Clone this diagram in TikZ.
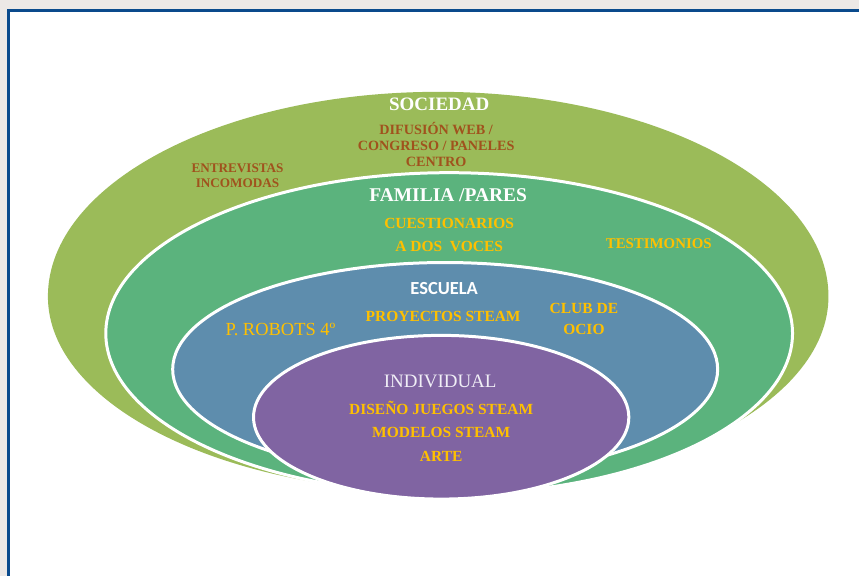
\documentclass[tikz,border=0pt]{standalone}
\usepackage{fontspec}
\setmainfont{Liberation Serif}
\newfontfamily\calibrifont{Carlito}
\usetikzlibrary{shapes.geometric}

\begin{document}
\begin{tikzpicture}[x=1pt,y=-1pt,
  ring/.style={ellipse,draw=white,line width=3pt,inner sep=0pt},
  ring label/.style={text=white,font=\bfseries\fontsize{19}{19}\selectfont,anchor=base},
  gold item/.style={text=itemgold,font=\bfseries\fontsize{15.5}{23.5}\selectfont,align=center,anchor=base},
  brown item/.style={text=notebrown,font=\bfseries\fontsize{14.2}{15.7}\selectfont,align=center,anchor=base}]
  \definecolor{framegray}{RGB}{236,232,230}
  \definecolor{frameblue}{RGB}{10,74,140}
  \definecolor{olivering}{RGB}{155,187,89}
  \definecolor{greenring}{RGB}{91,179,125}
  \definecolor{bluering}{RGB}{94,141,173}
  \definecolor{purplering}{RGB}{128,100,162}
  \definecolor{itemgold}{RGB}{255,192,0}
  \definecolor{notebrown}{RGB}{160,82,29}
  \definecolor{lightlabel}{RGB}{240,238,246}

  \fill[framegray] (0,0) rectangle (861,577);
  \fill[white] (7,9) rectangle (861,577);
  \draw[frameblue,line width=3.2pt] (8.6,577) -- (8.6,10.8) -- (861,10.8);

  % outer ring, a little flatter below
  \coordinate (sociedad) at (439,297);
  \fill[olivering] (48,297) arc[start angle=180,end angle=360,x radius=391,y radius=205]
    arc[start angle=0,end angle=180,x radius=391,y radius=196] -- cycle;
  \node[ring,fill=greenring,minimum width=688pt,minimum height=322pt] (familia) at (450,334) {};
  \node[ring,fill=bluering,minimum width=546pt,minimum height=214pt] (escuela) at (446,370) {};
  \node[ring,fill=purplering,minimum width=376pt,minimum height=164pt] (individual) at (442,418) {};

  \node[ring label] (sociedad label) at (440,110.5) {SOCIEDAD};
  \node[brown item] (difusion) at (437,166.5) {DIFUSIÓN WEB /\\CONGRESO / PANELES\\CENTRO};
  \node[brown item,font=\bfseries\fontsize{13.2}{15}\selectfont] (entrevistas) at (238,188) {ENTREVISTAS\\INCOMODAS};

  \node[ring label,font=\bfseries\fontsize{19.5}{19.5}\selectfont] (familia label) at (449,202) {FAMILIA /PARES};
  \node[gold item,font=\bfseries\fontsize{15.5}{23}\selectfont] (cuestionarios) at (450,252) {CUESTIONARIOS\\A DOS\ \ VOCES};
  \node[gold item,font=\bfseries\fontsize{14.9}{14.9}\selectfont] (testimonios) at (660,249) {TESTIMONIOS};

  \node[ring label,font=\calibrifont\bfseries\fontsize{18.5}{18.5}\selectfont] (escuela label) at (445,295) {ESCUELA};
  \node[gold item] (proyectos) at (444,322) {PROYECTOS STEAM};
  \node[gold item,font=\bfseries\fontsize{15.5}{21}\selectfont] (club) at (585,335) {CLUB DE\\OCIO};
  \node[gold item,font=\fontsize{18.5}{18.5}\selectfont] (robots) at (281,336) {P. ROBOTS 4º};

  \node[ring label,text=lightlabel,font=\fontsize{19}{19}\selectfont] (individual label) at (441,388) {INDIVIDUAL};
  \node[gold item] (individual items) at (442,462) {DISEÑO JUEGOS STEAM\\MODELOS STEAM\\ARTE};
\end{tikzpicture}
\end{document}
